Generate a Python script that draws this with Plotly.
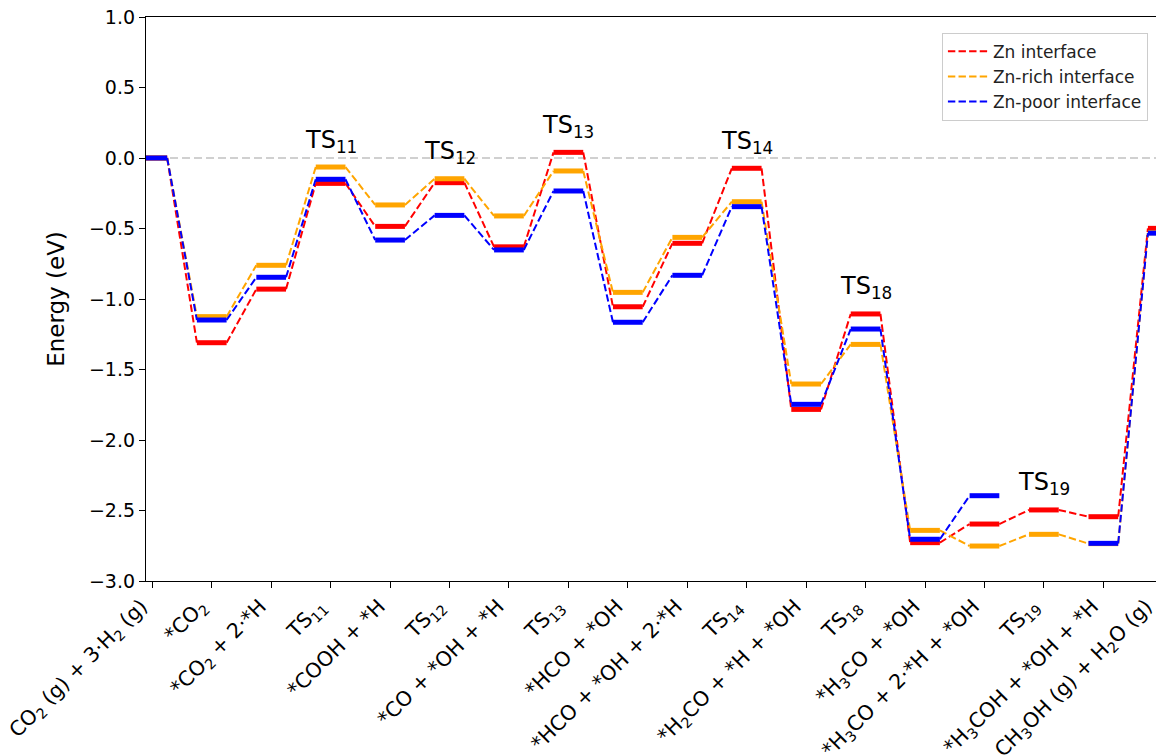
import plotly.graph_objects as go

# Reaction states along the CO2 -> CH3OH pathway
states = [
    "CO<sub>2</sub> (g) + 3·H<sub>2</sub> (g)",
    "*CO<sub>2</sub>",
    "*CO<sub>2</sub> + 2·*H",
    "TS<sub>11</sub>",
    "*COOH + *H",
    "TS<sub>12</sub>",
    "*CO + *OH + *H",
    "TS<sub>13</sub>",
    "*HCO + *OH",
    "*HCO + *OH + 2·*H",
    "TS<sub>14</sub>",
    "*H<sub>2</sub>CO + *H + *OH",
    "TS<sub>18</sub>",
    "*H<sub>3</sub>CO + *OH",
    "*H<sub>3</sub>CO + 2·*H + *OH",
    "TS<sub>19</sub>",
    "*H<sub>3</sub>COH + *OH + *H",
    "CH<sub>3</sub>OH (g) + H<sub>2</sub>O (g)",
]

# Relative energies (eV); None = state not computed for that interface
zn_interface = [0.0, -1.31, -0.93, -0.18, -0.485, -0.175, -0.63, 0.04, -1.055, -0.605,
                -0.073, -1.783, -1.106, -2.728, -2.596, -2.496, -2.544, -0.499]
zn_rich = [0.0, -1.125, -0.761, -0.064, -0.333, -0.147, -0.411, -0.092, -0.953, -0.563,
           -0.31, -1.603, -1.322, -2.641, -2.752, -2.669, -2.735, -0.53]
zn_poor = [0.0, -1.149, -0.846, -0.151, -0.582, -0.407, -0.652, -0.234, -1.165, -0.832,
           -0.345, -1.747, -1.213, -2.704, -2.395, None, -2.733, -0.533]

series_names = ["Zn interface", "Zn-rich interface", "Zn-poor interface"]
series_colors = ["red", "orange", "blue"]
series_values = [zn_interface, zn_rich, zn_poor]

# Transition states that get a label above their highest level
ts_labels = ["TS<sub>11</sub>", "TS<sub>12</sub>", "TS<sub>13</sub>",
             "TS<sub>14</sub>", "TS<sub>18</sub>", "TS<sub>19</sub>"]
ts_index = [3, 5, 7, 10, 12, 15]

HALF = 0.25          # half width of an energy level bar
LABEL_GAP = 0.06     # vertical gap between a TS level and its label
FONT = "DejaVu Sans"
X_RANGE = [-0.106, 16.886]
TICK_SIZE_X = 20.5
LABEL_SHIFT = -11    # pull rotated labels so their ends sit at the ticks

fig = go.Figure()

for name, color, vals in zip(series_names, series_colors, series_values):
    # dashed connectors between consecutive levels
    cx, cy = [], []
    for i in range(len(vals) - 1):
        if vals[i] is None or vals[i + 1] is None:
            continue
        cx += [i + HALF, i + 1 - HALF, None]
        cy += [vals[i], vals[i + 1], None]
    fig.add_trace(go.Scatter(
        x=cx, y=cy, mode="lines", name=name,
        line=dict(color=color, width=2, dash="7.4px,3.2px"),
        hoverinfo="skip",
    ))
    # thick horizontal bars for each level
    lx, ly = [], []
    for i, v in enumerate(vals):
        if v is None:
            continue
        lx += [i - HALF, i + HALF, None]
        ly += [v, v, None]
    fig.add_trace(go.Scatter(
        x=lx, y=ly, mode="lines", showlegend=False,
        line=dict(color=color, width=5),
        hoverinfo="skip",
    ))

# reference line at zero energy
fig.add_shape(type="line", xref="paper", x0=0, x1=1, yref="y", y0=0, y1=0,
              line=dict(color="#d0d0d0", width=2, dash="8px,4px"), layer="below")

# transition-state labels
for lab, i in zip(ts_labels, ts_index):
    top = max(v[i] for v in series_values if v[i] is not None)
    fig.add_annotation(x=i, y=top + LABEL_GAP, text=lab, showarrow=False,
                       xanchor="center", yanchor="bottom",
                       font=dict(family=FONT, size=24, color="black"))

# the last state lies just past the right edge of the axis, so its label
# is placed in paper coordinates
last = len(states) - 1
last_paper_x = (last - X_RANGE[0]) / (X_RANGE[1] - X_RANGE[0])
fig.add_annotation(x=last_paper_x, xref="paper", y=0, yref="paper",
                   xshift=-2, yshift=-11,
                   text=states[-1], textangle=-45, showarrow=False,
                   xanchor="right", yanchor="top",
                   font=dict(family=FONT, size=TICK_SIZE_X, color="black"))

fig.update_layout(
    width=1156, height=755,
    margin=dict(l=146, r=0, t=17, b=174),
    paper_bgcolor="white", plot_bgcolor="white",
    font=dict(family=FONT, color="black"),
    showlegend=True,
    legend=dict(x=0.992, xanchor="right", y=0.972, yanchor="top",
                bgcolor="white", bordercolor="#cccccc", borderwidth=1,
                itemwidth=40,
                font=dict(family=FONT, size=17, color="#222222")),
)

fig.update_xaxes(
    range=X_RANGE, automargin=False,
    tickmode="array", tickvals=list(range(last)), ticktext=states[:last],
    tickangle=-45, tickfont=dict(family=FONT, size=TICK_SIZE_X, color="black"),
    ticklabelshift=LABEL_SHIFT, ticklabelstandoff=-2,
    ticks="outside", ticklen=6, tickwidth=1.3, tickcolor="black",
    showline=True, linecolor="black", linewidth=1.3, mirror=True,
    showgrid=False, zeroline=False,
)
fig.update_yaxes(
    range=[-3, 1], automargin=False,
    tickmode="linear", tick0=-3, dtick=0.5, tickformat=".1f",
    tickfont=dict(family=FONT, size=19, color="black"),
    ticks="outside", ticklen=6, tickwidth=1.3, tickcolor="black",
    showline=True, linecolor="black", linewidth=1.3, mirror=False,
    showgrid=False, zeroline=False,
    title=dict(text="Energy (eV)", font=dict(family=FONT, size=23, color="black"),
               standoff=17),
)

fig.write_html("out.html")
